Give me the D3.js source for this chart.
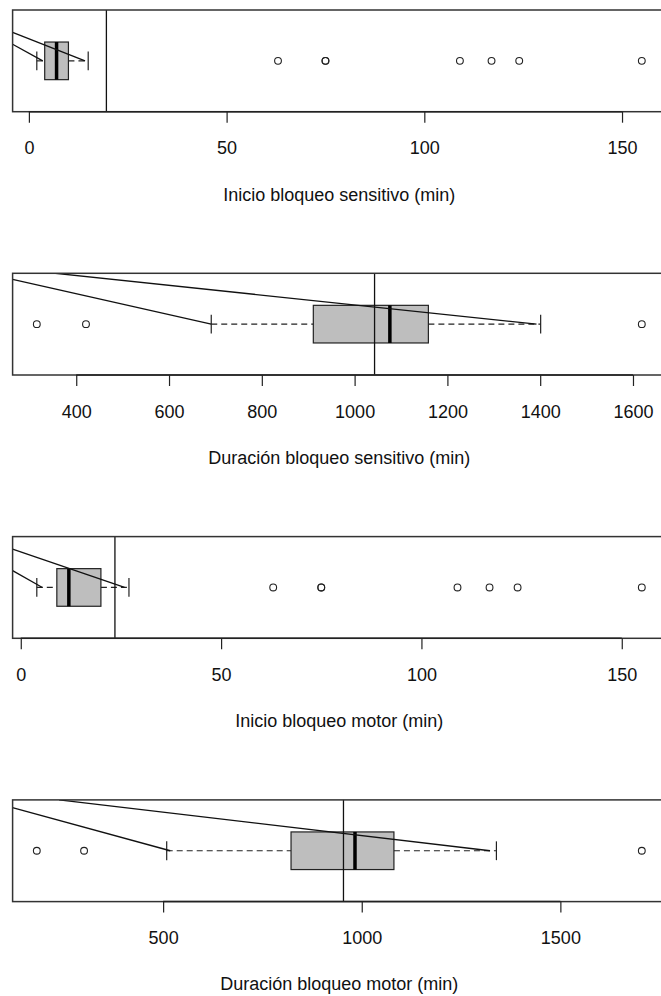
<!DOCTYPE html>
<html>
<head>
<meta charset="utf-8">
<script src="https://cdn.jsdelivr.net/npm/d3@7"></script>
<style>
  body { margin: 0; background: #fff; }
  svg { display: block; overflow: hidden; }
  text { font-family: "Liberation Sans", Arial, sans-serif; fill: #111; }
</style>
</head>
<body>
<script>
// one boxplot per panel, values in minutes
var titles = ["Inicio bloqueo sensitivo (min)", "Duración bloqueo sensitivo (min)",
              "Inicio bloqueo motor (min)", "Duración bloqueo motor (min)"];
var whiskerLow  = [2, 691, 4, 509];
var q1          = [4, 911, 9, 822];
var medians     = [7, 1076, 12, 983];
var q3          = [10, 1159, 20, 1081];
var whiskerHigh = [15, 1401, 27, 1339];
var means       = [19.6, 1043, 23.5, 954];
var outliers = [
    [63, 75, 75, 109, 117, 124, 155],
    [315, 421, 1619],
    [63, 75, 75, 109, 117, 124, 155],
    [182, 301, 1705]
];
var tickValues = [
    [0, 50, 100, 150],
    [400, 600, 800, 1000, 1200, 1400, 1600],
    [0, 50, 100, 150],
    [500, 1000, 1500]
];
// annotation lines [x0, y0, x1, y1], x in minutes, y in box units (box at 1, panel 0.5..1.5)
var linesA = [
    [-4.12, 1.281, 14.2, 1],
    [355, 1.5, 1392, 1],
    [-2.04, 1.376, 25.9, 1],
    [238, 1.5, 1323, 1]
];
var linesB = [
    [-4.12, 1.163, 3.5, 1],
    [262.8, 1.441, 691, 1],
    [-2.04, 1.165, 5.4, 1],
    [120.7, 1.424, 518, 1]
];

var W = 661, H = 996;
var plotLeft = 12.6, plotRight = 666, panelH = 101.7, firstTop = 10, step = 263.3;
var boxHalf = 0.185, capHalf = 0.0925;

var svg = d3.select("body").append("svg")
    .attr("width", W)
    .attr("height", H);

titles.forEach(function(title, i) {
    var top = firstTop + i * step;
    var bottom = top + panelH;

    var ext = d3.extent([whiskerLow[i], whiskerHigh[i]].concat(outliers[i]));
    var pad = (ext[1] - ext[0]) * 0.04;
    var x = d3.scaleLinear().domain([ext[0] - pad, ext[1] + pad]).range([plotLeft, plotRight]);
    var y = d3.scaleLinear().domain([0.5, 1.5]).range([bottom, top]);

    var g = svg.append("g");

    svg.append("clipPath").attr("id", "clip" + i)
        .append("rect")
        .attr("x", plotLeft).attr("y", top)
        .attr("width", plotRight - plotLeft).attr("height", panelH);

    // whiskers (dashed)
    g.selectAll(".whisker")
        .data([[whiskerLow[i], q1[i]], [q3[i], whiskerHigh[i]]])
        .enter().append("line")
        .attr("x1", function(d) { return x(d[0]); })
        .attr("x2", function(d) { return x(d[1]); })
        .attr("y1", y(1)).attr("y2", y(1))
        .attr("stroke", "#222")
        .attr("stroke-width", 1.2)
        .attr("stroke-dasharray", "6,4");

    // staples
    g.selectAll(".cap")
        .data([whiskerLow[i], whiskerHigh[i]])
        .enter().append("line")
        .attr("x1", function(d) { return x(d); })
        .attr("x2", function(d) { return x(d); })
        .attr("y1", y(1 - capHalf)).attr("y2", y(1 + capHalf))
        .attr("stroke", "#222")
        .attr("stroke-width", 1.2);

    // box
    g.append("rect")
        .attr("x", x(q1[i]))
        .attr("y", y(1 + boxHalf))
        .attr("width", x(q3[i]) - x(q1[i]))
        .attr("height", y(1 - boxHalf) - y(1 + boxHalf))
        .attr("fill", "#bebebe")
        .attr("stroke", "#222")
        .attr("stroke-width", 1.2);

    // median
    g.append("line")
        .attr("x1", x(medians[i])).attr("x2", x(medians[i]))
        .attr("y1", y(1 + boxHalf)).attr("y2", y(1 - boxHalf))
        .attr("stroke", "#000")
        .attr("stroke-width", 3.5);

    // outliers
    g.selectAll(".out")
        .data(outliers[i])
        .enter().append("circle")
        .attr("cx", function(d) { return x(d); })
        .attr("cy", y(1))
        .attr("r", 3.4)
        .attr("fill", "none")
        .attr("stroke", "#222")
        .attr("stroke-width", 1.1);

    // mean line
    g.append("line")
        .attr("x1", x(means[i])).attr("x2", x(means[i]))
        .attr("y1", top).attr("y2", bottom)
        .attr("stroke", "#111")
        .attr("stroke-width", 1.3);

    // annotation lines, clipped to the panel
    g.append("g").attr("clip-path", "url(#clip" + i + ")")
        .selectAll("line")
        .data([linesA[i], linesB[i]])
        .enter().append("line")
        .attr("x1", function(d) { return x(d[0]); })
        .attr("y1", function(d) { return y(d[1]); })
        .attr("x2", function(d) { return x(d[2]); })
        .attr("y2", function(d) { return y(d[3]); })
        .attr("stroke", "#111")
        .attr("stroke-width", 1.3);

    // panel frame
    g.append("rect")
        .attr("x", plotLeft).attr("y", top)
        .attr("width", plotRight - plotLeft).attr("height", panelH)
        .attr("fill", "none")
        .attr("stroke", "#333")
        .attr("stroke-width", 1.5);

    // axis
    var axis = g.append("g")
        .attr("transform", "translate(0," + bottom + ")")
        .call(d3.axisBottom(x).tickValues(tickValues[i]).tickFormat(d3.format("d"))
            .tickSize(11).tickPadding(19).tickSizeOuter(0));
    axis.select(".domain")
        .attr("d", "M" + x(tickValues[i][0]) + ",0H" + x(tickValues[i][tickValues[i].length - 1]))
        .attr("stroke", "#222")
        .attr("stroke-width", 1.5);
    axis.selectAll(".tick line").attr("stroke", "#222").attr("stroke-width", 1.2);
    axis.selectAll(".tick text")
        .style("font-size", "18px")
        .style("font-family", "'Liberation Sans', Arial, sans-serif")
        .attr("fill", "#111");

    // axis title
    g.append("text")
        .attr("x", (plotLeft + plotRight) / 2)
        .attr("y", bottom + 82.5)
        .attr("dy", "0.35em")
        .attr("text-anchor", "middle")
        .style("font-size", "18px")
        .text(title);
});
</script>
</body>
</html>
